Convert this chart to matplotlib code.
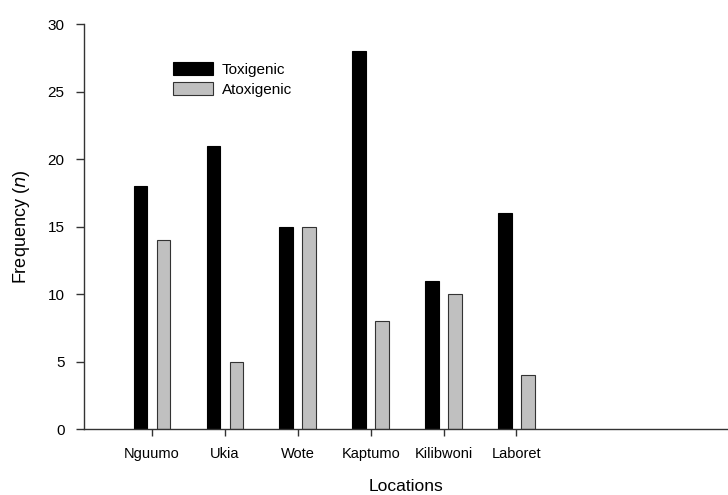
import matplotlib
matplotlib.use("Agg")
import matplotlib.pyplot as plt
import numpy as np

locations = ["Nguumo", "Ukia", "Wote", "Kaptumo", "Kilibwoni", "Laboret"]
toxigenic = [18, 21, 15, 28, 11, 16]
atoxigenic = [14, 5, 15, 8, 10, 4]

plt.rcParams['font.family'] = ['Liberation Sans', 'DejaVu Sans']

fig = plt.figure(figsize=(7.28, 4.95), dpi=100)
ax = fig.add_axes([0.1154, 0.1333, 0.8846, 0.8182])

x = np.arange(len(locations))
w = 0.19
ax.bar(x - 0.155, toxigenic, w, color="black", edgecolor="black", linewidth=0.8, label="Toxigenic")
ax.bar(x + 0.16, atoxigenic, w, color="#c0c0c0", edgecolor="#333333", linewidth=0.8, label="Atoxigenic")

ax.set_xlim(-0.93, 7.9)
ax.set_ylim(0, 30)
ax.set_yticks(range(0, 31, 5))
ax.set_xticks(x)
ax.set_xticklabels(locations, fontsize=10.5)
ax.tick_params(axis='y', labelsize=11, direction='out', length=6, width=1, colors='#333333', labelcolor='black', pad=8)
ax.tick_params(axis='x', direction='out', length=5, width=1, colors='#333333', labelcolor='black', pad=8)

for s in ['top', 'right']:
    ax.spines[s].set_visible(False)
for s in ['left', 'bottom']:
    ax.spines[s].set_color('#333333')
    ax.spines[s].set_linewidth(1)

ax.set_xlabel("Locations", fontsize=12.5, labelpad=13)
ax.set_ylabel("Frequency ($\\it{n}$)", fontsize=13, labelpad=11)

ax.legend(loc='upper left', bbox_to_anchor=(0.126, 0.925), frameon=False, fontsize=11,
          handlelength=2.6, handleheight=0.9, handletextpad=0.6, labelspacing=0.38, borderpad=0)

fig.savefig("out.png", dpi=100)
